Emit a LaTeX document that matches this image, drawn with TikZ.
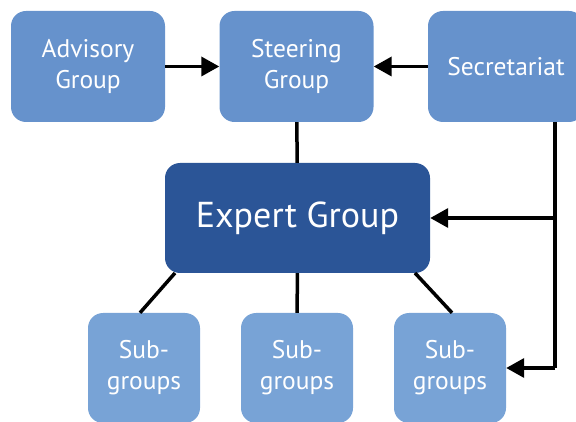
\documentclass[tikz,border=0pt]{standalone}
\usepackage{fontspec}
\setmainfont{PT Sans}
\usetikzlibrary{arrows.meta}

\definecolor{boxblue}{HTML}{6692CC}
\definecolor{subblue}{HTML}{78A3D6}
\definecolor{expertblue}{HTML}{2B5597}

\tikzset{
  unit/.style={rounded corners=15pt, text=white, align=center, inner sep=0pt,
    font=\fontsize{25.5}{31}\selectfont},
  topunit/.style={unit, fill=boxblue, minimum width=154pt, minimum height=111pt},
  subunit/.style={unit, fill=subblue, minimum width=112pt, minimum height=110pt},
  link/.style={line width=3.5pt},
  feed/.style={link, -{Triangle[length=18pt,width=19pt]}}
}

\begin{document}
\begin{tikzpicture}[x=1pt, y=-1pt]
  \useasboundingbox (0,0) rectangle (576,422);
  \node[topunit] (advisory) at (88,66.5) {Advisory\\Group};
  \node[topunit] (steering) at (296.5,66.5) {Steering\\Group};
  \node[topunit, minimum width=156pt] (secretariat) at (506,66.5) {Secretariat};
  \node[unit, fill=expertblue, minimum width=265pt, minimum height=110pt,
    font=\fontsize{36}{42}\selectfont] (expert) at (297.5,218) {Expert Group};
  \node[subunit] (subA) at (144,368) {Sub-\\groups};
  \node[subunit] (subB) at (297,368) {Sub-\\groups};
  \node[subunit] (subC) at (450,368) {Sub-\\groups};
  \coordinate (secdown) at (555,122);
  \coordinate (secmid) at (555,218);
  \coordinate (seclow) at (555,368);
  \coordinate (ea) at (175,273);
  \coordinate (eb) at (415,273);
  \draw[feed] (advisory) -- (steering);
  \draw[feed] (secretariat) -- (steering);
  \draw[link] (steering) -- (expert);
  \draw[link] (ea) -- ([xshift=-4pt]subA.north);
  \draw[link] (expert) -- (subB);
  \draw[link] (eb) -- ([xshift=2pt]subC.north);
  \draw[link] (secdown) -- (seclow);
  \draw[feed] (secmid) -- (expert);
  \draw[feed] (seclow) -- (subC);
\end{tikzpicture}
\end{document}
